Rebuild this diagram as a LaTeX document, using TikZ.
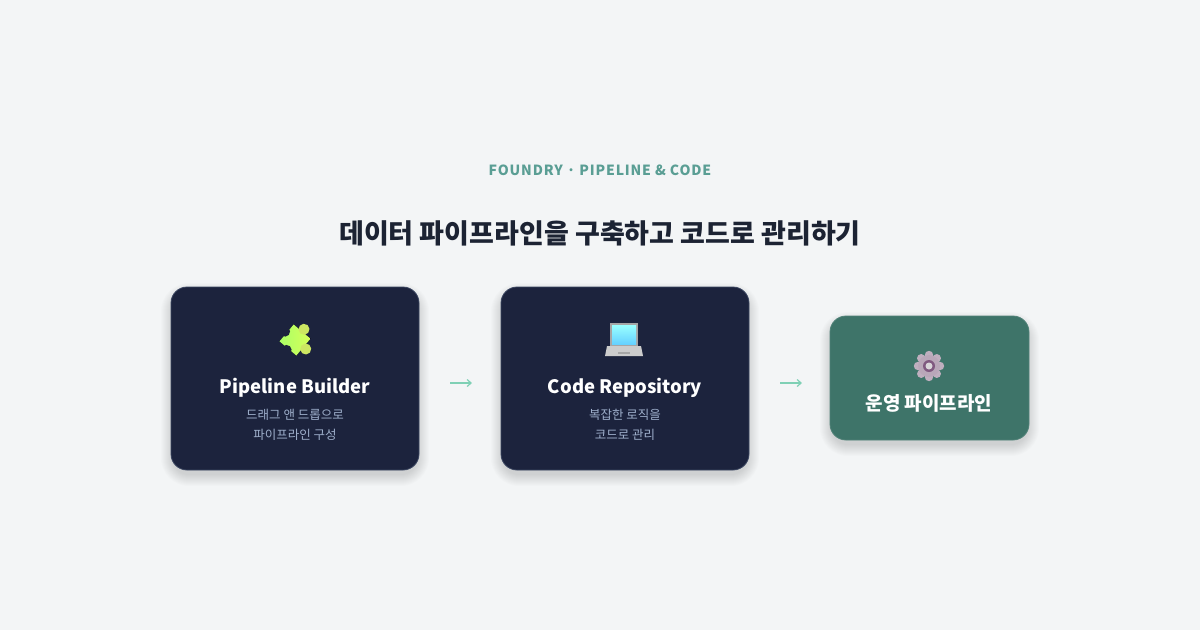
\documentclass[tikz,border=0pt]{standalone}
\usepackage{fontspec}
\setmainfont{Noto Sans CJK KR}
\usetikzlibrary{arrows.meta}
\definecolor{bg}{HTML}{F3F5F6}
\definecolor{navy}{HTML}{1C233D}
\definecolor{navyb}{HTML}{3A4560}
\definecolor{teal}{HTML}{3E7469}
\definecolor{kick}{HTML}{5A9E94}
\definecolor{ttl}{HTML}{1C2333}
\definecolor{sub}{HTML}{9FB0CC}
\definecolor{arr}{HTML}{7FD0B5}
\newcommand{\softshadow}[4]{%
 \foreach \i in {1,...,12}{\fill[black,opacity=0.012,rounded corners=16pt+\i pt]
   (#1-\i+2,#2-\i+8) rectangle (#3+\i-2,#4+\i+4);}}
\begin{document}
\begin{tikzpicture}[x=1pt,y=-1pt,
 card/.style={draw=navyb,line width=0.8pt,fill=navy,rounded corners=16pt},
 ttlt/.style={text=white,font=\bfseries\fontsize{18.5}{24}\selectfont},
 subt/.style={text=sub,font=\fontsize{12.5}{20}\selectfont,align=center},
 conn/.style={draw=arr,line width=1.2pt,-{Straight Barb[length=4pt,width=7pt]}}]
\fill[bg] (0,0) rectangle (1200,630);
\useasboundingbox (0,0) rectangle (1200,630);
\node (kick) at (600,170) {\color{kick}\bfseries\fontsize{14}{16}\selectfont\addfontfeature{LetterSpace=6}FOUNDRY · PIPELINE \& CODE};
\node (title) at (600,233) {\color{ttl}\bfseries\fontsize{27}{30}\selectfont 데이터 파이프라인을 구축하고 코드로 관리하기};
% shadows
\softshadow{171}{287}{419}{470}
\softshadow{501}{287}{749}{470}
\softshadow{830}{316}{1029}{440}
% cards
\path[card] (171,287) rectangle (419,470);
\path[card] (501,287) rectangle (749,470);
\path[card,draw=teal!90!white,fill=teal] (830,316) rectangle (1029,440);
% puzzle icon
\begin{scope}[shift={(295,340)},rotate=-40]
 \fill[left color=green!55!yellow!60!white,right color=yellow!75!green!65!white]
  (-11,-11) rectangle (11,11);
 \fill[yellow!70!green!65!white] (0,-14) circle (5.5) (14,0) circle (5.5);
 \fill[navy] (-13,0) circle (5) (0,13) circle (5);
\end{scope}
% laptop icon
\begin{scope}[shift={(624,340)}]
 \fill[gray!70] (-14,-17) rectangle (14,6);
 \fill[top color=cyan!40,bottom color=cyan!70!blue!60] (-12,-15) rectangle (12,4);
 \fill[gray!40] (-17,6) -- (17,6) -- (19,16) -- (-19,16) -- cycle;
 \fill[gray!70] (-6,12) rectangle (6,14);
\end{scope}
% gear icon
\begin{scope}[shift={(929,366)}]
 \foreach \a in {0,45,...,315}{\fill[violet!25!gray!50] (\a:11) circle (4.2);}
 \fill[violet!25!gray!55] (0,0) circle (11);
 \fill[gray!70!violet] (0,0) circle (6);
 \fill[violet!10!gray!30] (0,0) circle (3.5);
\end{scope}
\node[ttlt] (t1) at (295,388) {Pipeline Builder};
\node[subt] (s1) at (295,425) {드래그 앤 드롭으로\\파이프라인 구성};
\node[ttlt] (t2) at (625,388) {Code Repository};
\node[subt] (s2) at (625,425) {복잡한 로직을\\코드로 관리};
\node[ttlt,font=\bfseries\fontsize{19}{24}\selectfont] (t3) at (929,403) {운영 파이프라인};
\node[coordinate] (a1) at (450,383) {}; \node[coordinate] (b1) at (472,383) {};
\node[coordinate] (a2) at (780,383) {}; \node[coordinate] (b2) at (802,383) {};
\draw[conn] (a1) -- (b1);
\draw[conn] (a2) -- (b2);
\end{tikzpicture}
\end{document}
